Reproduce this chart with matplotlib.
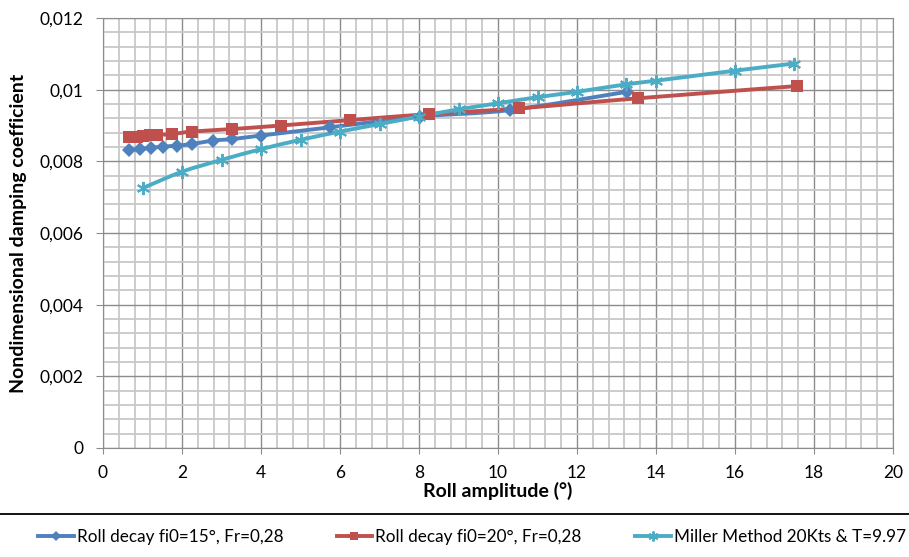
import numpy as np
import matplotlib
matplotlib.use("Agg")
import matplotlib.pyplot as plt
from matplotlib.path import Path
from matplotlib.patches import PathPatch
from matplotlib.ticker import MultipleLocator, FixedLocator
from matplotlib.lines import Line2D

plt.rcParams['font.family'] = ['Lato', 'DejaVu Sans']

# ---- data ----
blue_x = [0.67, 0.94, 1.21, 1.53, 1.87, 2.25, 2.78, 3.26, 4.0, 5.75, 8.03, 10.3, 13.26]
blue_y = [0.00832, 0.00834, 0.00838, 0.00841, 0.00844, 0.00848, 0.00858, 0.00862,
          0.00872, 0.00895, 0.00925, 0.00943, 0.00994]

red_x = [0.67, 0.85, 1.02, 1.19, 1.36, 1.74, 2.25, 3.26, 4.5, 6.25, 8.26, 10.54, 13.55, 17.56]
red_y = [0.00867, 0.00869, 0.00871, 0.00873, 0.00874, 0.00876, 0.00883, 0.00890,
         0.00900, 0.00915, 0.00932, 0.00948, 0.00976, 0.0101]

miller_x = [1, 2, 3, 4, 5, 6, 7, 8, 9, 10, 11, 12, 13.25, 14, 16, 17.5]
miller_y = [0.00725, 0.00771, 0.00804, 0.00834, 0.00860, 0.00883, 0.00904, 0.00925,
            0.00945, 0.00962, 0.00979, 0.00994, 0.01015, 0.01025, 0.01053, 0.01073]

labels = ["Roll decay fi0=15°, Fr=0,28", "Roll decay fi0=20°, Fr=0,28",
          "Miller Method 20Kts & T=9.97"]
xticks = [0, 2, 4, 6, 8, 10, 12, 14, 16, 18, 20]
yticks = [0, 0.002, 0.004, 0.006, 0.008, 0.01, 0.012]
ytick_labels = ["0", "0,002", "0,004", "0,006", "0,008", "0,01", "0,012"]

colors = ["#4F81BD", "#C0504D", "#4BACC6"]


def smooth_path(x, y, t=1/6):
    x = np.asarray(x, float); y = np.asarray(y, float)
    n = len(x)
    verts = [(x[0], y[0])]
    codes = [Path.MOVETO]
    for i in range(n - 1):
        p0 = np.array([x[max(i-1, 0)], y[max(i-1, 0)]])
        p1 = np.array([x[i], y[i]])
        p2 = np.array([x[i+1], y[i+1]])
        p3 = np.array([x[min(i+2, n-1)], y[min(i+2, n-1)]])
        c1 = p1 + (p2 - p0) * t
        c2 = p2 - (p3 - p1) * t
        verts += [tuple(c1), tuple(c2), tuple(p2)]
        codes += [Path.CURVE4] * 3
    return Path(verts, codes)


fig = plt.figure(figsize=(9.09, 5.57), dpi=100)
W, H = 909, 557
ax = fig.add_axes([103/W, 1 - 448/H, 790/W, 430/H])

ax.set_xlim(0, 20)
ax.set_ylim(0, 0.012)
ax.xaxis.set_major_locator(FixedLocator(xticks))
ax.yaxis.set_major_locator(FixedLocator(yticks))
ax.set_xticklabels([str(v) for v in xticks])
ax.set_yticklabels(ytick_labels)
ax.xaxis.set_minor_locator(MultipleLocator(0.4))
ax.yaxis.set_minor_locator(MultipleLocator(0.0004))
ax.grid(which='minor', color='#c8c8c8', lw=1.3, zorder=0)
ax.grid(which='major', color='#8c8c8c', lw=1.0, zorder=0)
ax.set_axisbelow(True)
ax.tick_params(which='minor', length=0)
ax.tick_params(axis='x', which='major', length=4.5, color='#8c8c8c', labelsize=12.5, pad=8)
ax.tick_params(axis='y', which='major', length=5, color='#8c8c8c', labelsize=12.5, pad=9)
for s in ax.spines.values():
    s.set_color('#8c8c8c')

markers = ['D', 's', (6, 2, 0)]
msizes = [7, 8.5, 9.5]
series = [(blue_x, blue_y), (red_x, red_y), (miller_x, miller_y)]
handles = []
for (xs, ys), c, m, ms, lab in zip(series, colors, markers, msizes, labels):
    p = PathPatch(smooth_path(xs, ys), fill=False, edgecolor=c, lw=2.8, zorder=3,
                  capstyle='round', joinstyle='round')
    ax.add_patch(p)
    mew = 1.4 if m == markers[2] else 0
    ax.plot(xs, ys, ls='none', marker=m, ms=ms, color=c, mec=c, mew=mew, zorder=4)
    handles.append(Line2D([], [], color=c, lw=2.8, marker=m, ms=ms*0.75, mec=c, mew=mew))

ax.set_xlabel("Roll amplitude (°)", fontsize=14, fontweight='bold')
ax.set_ylabel("Nondimensional damping coefficient", fontsize=14, fontweight='bold')
ax.xaxis.set_label_coords(0.5, (448 - 482) / 430)
ax.yaxis.set_label_coords((27 - 103) / 790, 0.5)

fig.add_artist(Line2D([0, 1], [1 - 514/H, 1 - 514/H], transform=fig.transFigure,
                      color='black', lw=1.3))
fig.legend(handles, labels, loc='center left', bbox_to_anchor=(38/W, 1 - 537/H),
           ncol=3, frameon=False, fontsize=12.3, handlelength=2.1,
           handletextpad=0.18, columnspacing=3.1, borderaxespad=0, borderpad=0)

fig.savefig("out.png", dpi=100)
